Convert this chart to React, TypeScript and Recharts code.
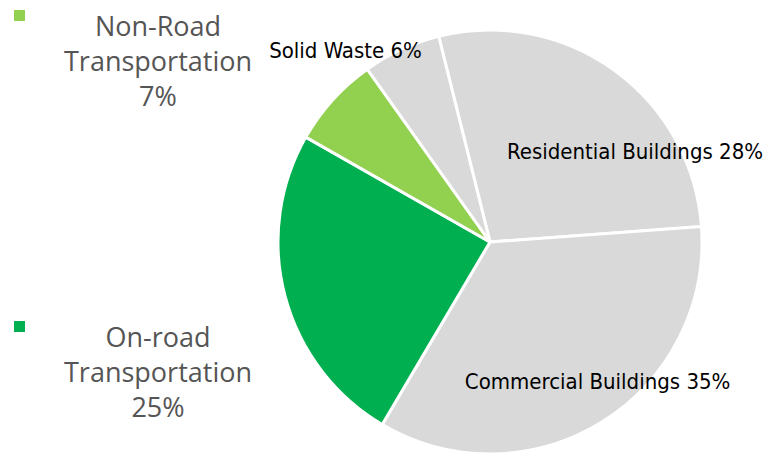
import React from 'react'
import { PieChart, Pie, Cell } from 'recharts'

const sectors = [
  'Residential Buildings',
  'Commercial Buildings',
  'On-road Transportation',
  'Non-Road Transportation',
  'Solid Waste',
]
const shares = [28, 35, 25, 7, 6]
const sectorColors = ['#d9d9d9', '#d9d9d9', '#00b050', '#92d050', '#d9d9d9']
const legendSectors = ['Non-Road Transportation', 'On-road Transportation']

const data = sectors.map((name, i) => ({ name, value: shares[i] }))

// where each in-chart label sits, measured from the pie centre
const labelSpots: Record<string, { angle: number; r: number }> = {
  'Residential Buildings': { angle: 32, r: 171 },
  'Commercial Buildings': { angle: -52.3, r: 176 },
  'Solid Waste': { angle: 127, r: 240 },
}

const legendTops = [8, 319]

const RADIAN = Math.PI / 180

type LabelProps = { cx: number; cy: number; index: number }

const renderLabel = ({ cx, cy, index }: LabelProps) => {
  const name = sectors[index]
  const spot = labelSpots[name]
  if (!spot) return null
  const x = cx + spot.r * Math.cos(-spot.angle * RADIAN)
  const y = cy + spot.r * Math.sin(-spot.angle * RADIAN)
  return (
    <text
      x={x}
      y={y}
      textAnchor="middle"
      dominantBaseline="central"
      fill="#000"
      fontSize={22}
      style={{ fontFamily: "'DejaVu Sans Condensed', 'DejaVu Sans', sans-serif", fontStretch: 'condensed' }}
    >
      {`${name} ${shares[index]}%`}
    </text>
  )
}

function SideLegend() {
  return (
    <>
      {legendSectors.map((name, i) => {
        const idx = sectors.indexOf(name)
        const cut = name.indexOf(' ')
        const lines = [name.slice(0, cut), name.slice(cut + 1), `${shares[idx]}%`]
        const top = legendTops[i]
        return (
          <div key={name}>
            <div
              style={{
                position: 'absolute',
                left: 14,
                top: top + 2,
                width: 11,
                height: 11,
                background: sectorColors[idx],
              }}
            />
            <div
              style={{
                position: 'absolute',
                left: 58,
                top,
                width: 200,
                textAlign: 'center',
                fontFamily: "'Open Sans', sans-serif",
                fontSize: 27,
                lineHeight: '35px',
                color: '#555',
              }}
            >
              {lines.map((l) => (
                <div key={l}>{l}</div>
              ))}
            </div>
          </div>
        )
      })}
    </>
  )
}

export default function App() {
  return (
    <div style={{ position: 'absolute', left: 0, top: 0, width: 772, height: 454, background: '#fff' }}>
      <PieChart width={772} height={454} margin={{ top: 0, right: 0, bottom: 0, left: 0 }}>
        <Pie
          data={data}
          dataKey="value"
          nameKey="name"
          cx={490}
          cy={242}
          outerRadius={212}
          startAngle={104}
          endAngle={-256}
          stroke="#fff"
          strokeWidth={3}
          label={renderLabel}
          labelLine={false}
          isAnimationActive={false}
        >
          {data.map((d, i) => (
            <Cell key={d.name} fill={sectorColors[i]} />
          ))}
        </Pie>
      </PieChart>
      <SideLegend />
    </div>
  )
}
